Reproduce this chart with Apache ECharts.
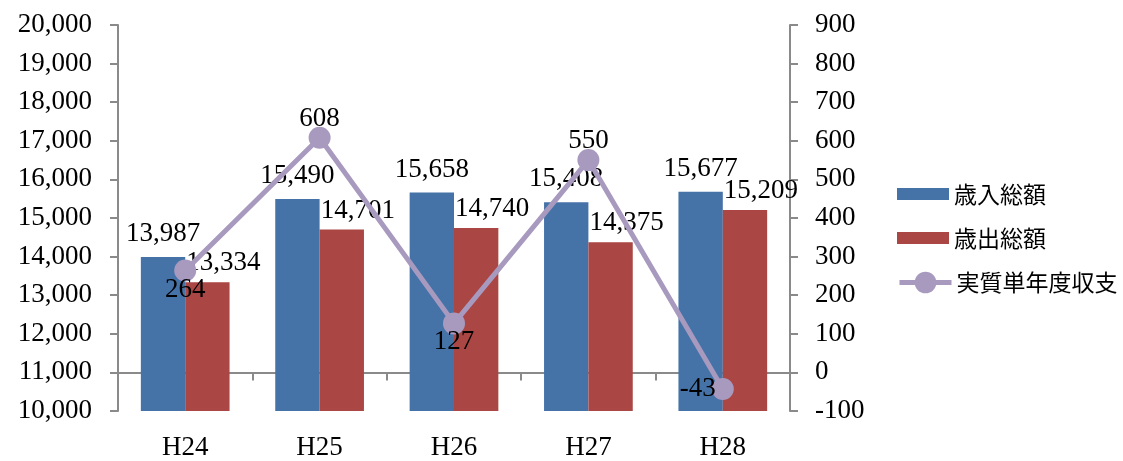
<!DOCTYPE html>
<html>
<head>
<meta charset="utf-8">
<script src="https://cdn.jsdelivr.net/npm/echarts@6/dist/echarts.min.js"></script>
<style>
html,body{margin:0;padding:0;background:#fff;}
#chart{width:1123px;height:461px;}
</style>
</head>
<body>
<div id="chart"></div>
<script>
const categories = ['H24', 'H25', 'H26', 'H27', 'H28'];
const revenue = [13987, 15490, 15658, 15408, 15677];     // 歳入総額
const expenditure = [13334, 14701, 14740, 14375, 15209]; // 歳出総額
const balance = [264, 608, 127, 550, -43];               // 実質単年度収支
const seriesNames = ['歳入総額', '歳出総額', '実質単年度収支'];

// label placement style for the line points (not data)
const balanceLabelPlacement = ['bottom', 'top', 'bottom', 'top', 'left'];

const SERIF = '"Liberation Serif", "Times New Roman", serif';
const CJK = '"Noto Sans CJK JP", sans-serif';
const FS = 27;
const fmt = v => Number(v).toLocaleString('en-US');
const axisGray = '#8a8a8a';
const lineColor = '#A89ABF';

const chart = echarts.init(document.getElementById('chart'), null, {renderer: 'canvas'});

const option = {
  animation: false,
  backgroundColor: '#ffffff',
  textStyle: {fontFamily: SERIF, color: '#000'},
  grid: {left: 118, right: 333, top: 25, bottom: 46, containLabel: false},
  legend: [
    {
      data: [seriesNames[0], seriesNames[1]],
      orient: 'vertical',
      left: 897, top: 182,
      padding: 0,
      itemWidth: 52, itemHeight: 12, itemGap: 20,
      icon: 'rect',
      textStyle: {fontFamily: CJK, fontSize: 23, lineHeight: 24, color: '#000'}
    },
    {
      data: [seriesNames[2]],
      orient: 'vertical',
      left: 897, top: 269,
      padding: 0,
      itemWidth: 52, itemHeight: 27,
      lineStyle: {width: 5, color: lineColor},
      textStyle: {fontFamily: CJK, fontSize: 23, lineHeight: 27, color: '#000'}
    }
  ],
  xAxis: {
    type: 'category',
    data: categories,
    boundaryGap: true,
    axisLine: {lineStyle: {color: axisGray, width: 2}},
    axisTick: {show: true, length: 8, inside: false, lineStyle: {color: axisGray, width: 2}},
    axisLabel: {fontFamily: SERIF, fontSize: FS, color: '#000', margin: 23}
  },
  yAxis: [
    {
      type: 'value', min: 10000, max: 20000, interval: 1000,
      position: 'left',
      splitLine: {show: false},
      axisLine: {show: true, lineStyle: {color: axisGray, width: 2}},
      axisTick: {show: true, length: 8, lineStyle: {color: axisGray, width: 2}},
      axisLabel: {fontFamily: SERIF, fontSize: FS, color: '#000', margin: 26, formatter: fmt}
    },
    {
      type: 'value', min: -100, max: 900, interval: 100,
      position: 'right',
      splitLine: {show: false},
      axisLine: {show: true, lineStyle: {color: axisGray, width: 2}},
      axisTick: {show: true, length: 8, lineStyle: {color: axisGray, width: 2}},
      axisLabel: {fontFamily: SERIF, fontSize: FS, color: '#000', margin: 25, formatter: fmt}
    }
  ],
  series: [
    {
      name: seriesNames[0],
      type: 'bar',
      data: revenue,
      yAxisIndex: 0,
      barGap: '0%',
      barCategoryGap: '34%',
      itemStyle: {color: '#4572A7'},
      label: {show: true, position: 'top', distance: 11, formatter: p => fmt(p.value),
              fontFamily: SERIF, fontSize: FS, lineHeight: 24, color: '#000'},
      z: 2
    },
    {
      name: seriesNames[1],
      type: 'bar',
      data: expenditure,
      yAxisIndex: 0,
      itemStyle: {color: '#AA4643'},
      label: {show: true, position: 'top', distance: 7, offset: [16, 0], formatter: p => fmt(p.value),
              fontFamily: SERIF, fontSize: FS, lineHeight: 24, color: '#000'},
      z: 2
    },
    {
      name: seriesNames[2],
      type: 'line',
      yAxisIndex: 1,
      data: balance.map((v, i) => ({
        value: v,
        label: {position: balanceLabelPlacement[i], distance: balanceLabelPlacement[i] === 'left' ? -4 : -4}
      })),
      symbol: 'circle',
      symbolSize: 22,
      lineStyle: {color: lineColor, width: 5},
      itemStyle: {color: lineColor},
      label: {show: true, fontFamily: SERIF, fontSize: FS, lineHeight: 24, color: '#000', formatter: p => fmt(p.value)},
      z: 3
    }
  ]
};
chart.setOption(option);
</script>
</body>
</html>
